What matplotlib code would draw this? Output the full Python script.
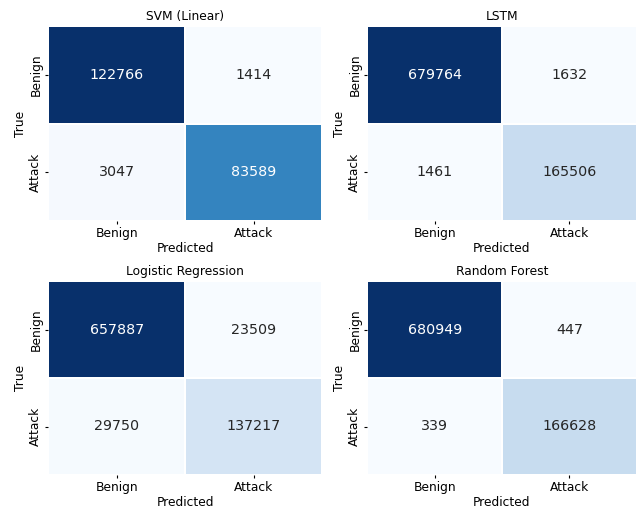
import matplotlib
matplotlib.use("Agg")
import matplotlib.pyplot as plt
import seaborn as sns
import numpy as np

labels = ["Benign", "Attack"]
titles = ["SVM (Linear)", "LSTM", "Logistic Regression", "Random Forest"]
svm = [[122766, 1414], [3047, 83589]]
lstm = [[679764, 1632], [1461, 165506]]
logreg = [[657887, 23509], [29750, 137217]]
rf = [[680949, 447], [339, 166628]]
matrices = [svm, lstm, logreg, rf]

W, H = 637, 508
fig = plt.figure(figsize=(W / 100, H / 100), dpi=100)
# panel boxes in pixels: (x0, x1, y0_top, y1_bottom)
boxes = [(48.3, 322, 26, 221), (367.3, 636.7, 26, 221),
         (48.3, 322, 281, 475), (367.3, 636.7, 281, 475)]
fs = 8.8
for box, title, m in zip(boxes, titles, matrices):
    x0, x1, yt, yb = box
    ax = fig.add_axes([x0 / W, 1 - yb / H, (x1 - x0) / W, (yb - yt) / H])
    sns.heatmap(np.array(m), annot=True, fmt="d", cmap="Blues", cbar=False,
                xticklabels=labels, yticklabels=labels, ax=ax,
                annot_kws={"size": 10.3}, linewidths=0.15, linecolor="white")
    ax.set_title(title, fontsize=fs, pad=4.5)
    ax.set_xlabel("Predicted", fontsize=fs, labelpad=1.5)
    ax.set_ylabel("True", fontsize=fs, labelpad=2.0)
    ax.tick_params(labelsize=fs, length=2.5, pad=1.8)
fig.savefig("out.png", dpi=100)
